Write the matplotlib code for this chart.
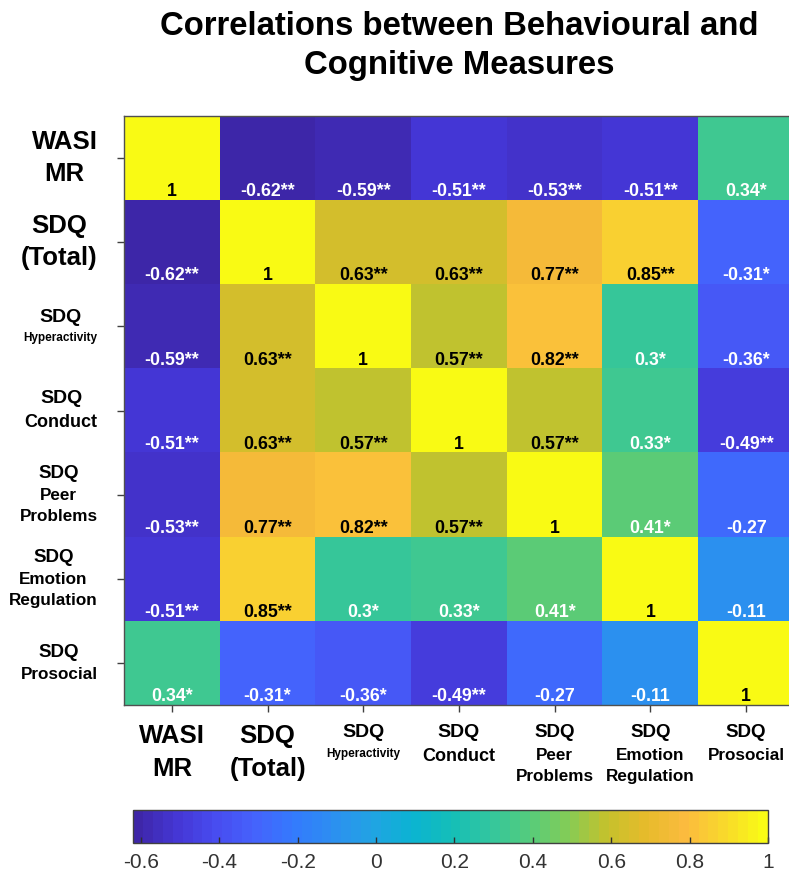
import numpy as np
import matplotlib
matplotlib.use("Agg")
import matplotlib.pyplot as plt
from matplotlib.colors import LinearSegmentedColormap
from matplotlib.offsetbox import TextArea, VPacker, AnnotationBbox

# ---------------- data ----------------
measures = ["WASI MR", "SDQ (Total)", "SDQ Hyperactivity", "SDQ Conduct",
            "SDQ Peer Problems", "SDQ Emotion Regulation", "SDQ Prosocial"]

row_wasi       = [1.00, -0.62, -0.59, -0.51, -0.53, -0.51, 0.34]
row_total      = [-0.62, 1.00, 0.63, 0.63, 0.77, 0.85, -0.31]
row_hyper      = [-0.59, 0.63, 1.00, 0.57, 0.82, 0.30, -0.36]
row_conduct    = [-0.51, 0.63, 0.57, 1.00, 0.57, 0.33, -0.49]
row_peer       = [-0.53, 0.77, 0.82, 0.57, 1.00, 0.41, -0.27]
row_emotion    = [-0.51, 0.85, 0.30, 0.33, 0.41, 1.00, -0.11]
row_prosocial  = [0.34, -0.31, -0.36, -0.49, -0.27, -0.11, 1.00]

sig_wasi      = ["", "**", "**", "**", "**", "**", "*"]
sig_total     = ["**", "", "**", "**", "**", "**", "*"]
sig_hyper     = ["**", "**", "", "**", "**", "*", "*"]
sig_conduct   = ["**", "**", "**", "", "**", "*", "**"]
sig_peer      = ["**", "**", "**", "**", "", "*", ""]
sig_emotion   = ["**", "**", "*", "*", "*", "", ""]
sig_prosocial = ["*", "*", "*", "**", "", "", ""]

cbar_ticks = [-0.6, -0.4, -0.2, 0, 0.2, 0.4, 0.6, 0.8, 1]
color_limits = (-0.62, 1.0)
title = "Correlations between Behavioural and\nCognitive Measures"

corr = np.array([row_wasi, row_total, row_hyper, row_conduct,
                 row_peer, row_emotion, row_prosocial])
sig = [sig_wasi, sig_total, sig_hyper, sig_conduct, sig_peer, sig_emotion, sig_prosocial]

# ---------------- styling ----------------
FONT = "Liberation Sans"
plt.rcParams["font.family"] = [FONT, "DejaVu Sans"]

# multi-size label lines (text, fontsize)
label_lines = {
    "WASI MR": [("WASI", 18.5), ("MR", 18.5)],
    "SDQ (Total)": [("SDQ", 18.5), ("(Total)", 18.5)],
    "SDQ Hyperactivity": [("SDQ", 14), ("Hyperactivity", 8.5)],
    "SDQ Conduct": [("SDQ", 14), ("Conduct", 13)],
    "SDQ Peer Problems": [("SDQ", 13.5), ("Peer", 12.3), ("Problems", 12.3)],
    "SDQ Emotion Regulation": [("SDQ", 13.5), ("Emotion", 12.3), ("Regulation", 12.3)],
    "SDQ Prosocial": [("SDQ", 13.5), ("Prosocial", 12.3)],
}

# parula-like colormap (64 levels)
parula_anchors = [
    (0.2422, 0.1504, 0.6603), (0.2704, 0.2138, 0.8346), (0.2813, 0.2985, 0.9397),
    (0.2710, 0.3860, 0.9898), (0.2006, 0.4803, 0.9906), (0.1740, 0.5605, 0.9432),
    (0.1288, 0.6408, 0.8910), (0.0433, 0.7039, 0.8242), (0.0770, 0.7468, 0.7224),
    (0.1954, 0.7765, 0.6225), (0.3301, 0.8002, 0.4876), (0.5187, 0.7982, 0.3374),
    (0.7700, 0.7600, 0.1750), (0.9050, 0.7330, 0.1700), (0.9850, 0.7330, 0.2450),
    (0.9750, 0.8470, 0.1730), (0.9769, 0.9839, 0.0805),
]
parula = LinearSegmentedColormap.from_list("parula", parula_anchors, N=64)

DPI = 100
fig = plt.figure(figsize=(7.89, 8.74), dpi=DPI)
W, H = 789, 874
ax = fig.add_axes([124 / W, (H - 705) / H, 670 / W, 589 / H])

im = ax.imshow(corr, cmap=parula, vmin=color_limits[0], vmax=color_limits[1],
               aspect="auto", interpolation="nearest")

n = len(measures)
ax.set_xticks(range(n))
ax.set_yticks(range(n))
ax.set_xticklabels([])
ax.set_yticklabels([])
ax.tick_params(axis="both", direction="out", length=5, width=1, color="#404040")
ax.tick_params(axis="x", top=False)
ax.tick_params(axis="y", right=False)
for s in ax.spines.values():
    s.set_color("#505050")
    s.set_linewidth(1.0)

# cell annotations
for r in range(n):
    for c in range(n):
        v = corr[r, c]
        txt = f"{v:g}{sig[r][c]}"
        col = "black" if v > 0.5 else "white"
        ax.text(c, r + 0.5 - 0.045, txt, ha="center", va="baseline",
                fontsize=12.8, fontweight="bold", color=col)


def label_box(name):
    lines = label_lines[name]
    areas = [TextArea(t, textprops=dict(fontsize=s, fontweight="bold",
                                        color="black", family=FONT))
             for t, s in lines]
    sep = 0.33 * lines[0][1]
    return VPacker(children=areas, align="center", pad=0, sep=sep)


# y labels: right-aligned block, centered on tick
for i, name in enumerate(measures):
    ab = AnnotationBbox(label_box(name), xy=(0, i), xycoords=ax.get_yaxis_transform(),
                        xybox=(-19, 0), boxcoords="offset points",
                        box_alignment=(1.0, 0.5), frameon=False, annotation_clip=False)
    ax.add_artist(ab)

# x labels: centered below tick, top aligned
for i, name in enumerate(measures):
    ab = AnnotationBbox(label_box(name), xy=(i, 0), xycoords=ax.get_xaxis_transform(),
                        xybox=(0, -14), boxcoords="offset points",
                        box_alignment=(0.5, 1.0), frameon=False, annotation_clip=False)
    ax.add_artist(ab)

# title
fig.text(459 / W, 1 - 11 / H, title, ha="center", va="top", fontsize=23.7,
         fontweight="bold", linespacing=1.34)

# colorbar
cax = fig.add_axes([133 / W, (H - 843) / H, 635 / W, 33 / H])
cb = fig.colorbar(im, cax=cax, orientation="horizontal", ticks=cbar_ticks)
cb.ax.set_xticklabels([f"{t:g}" for t in cbar_ticks])
cb.ax.tick_params(direction="in", length=4, width=1, color="#303030",
                  labelsize=15, labelcolor="#333333", pad=7.5)
cb.outline.set_edgecolor("#404040")
cb.outline.set_linewidth(1.0)

fig.savefig("out.png", dpi=DPI)
